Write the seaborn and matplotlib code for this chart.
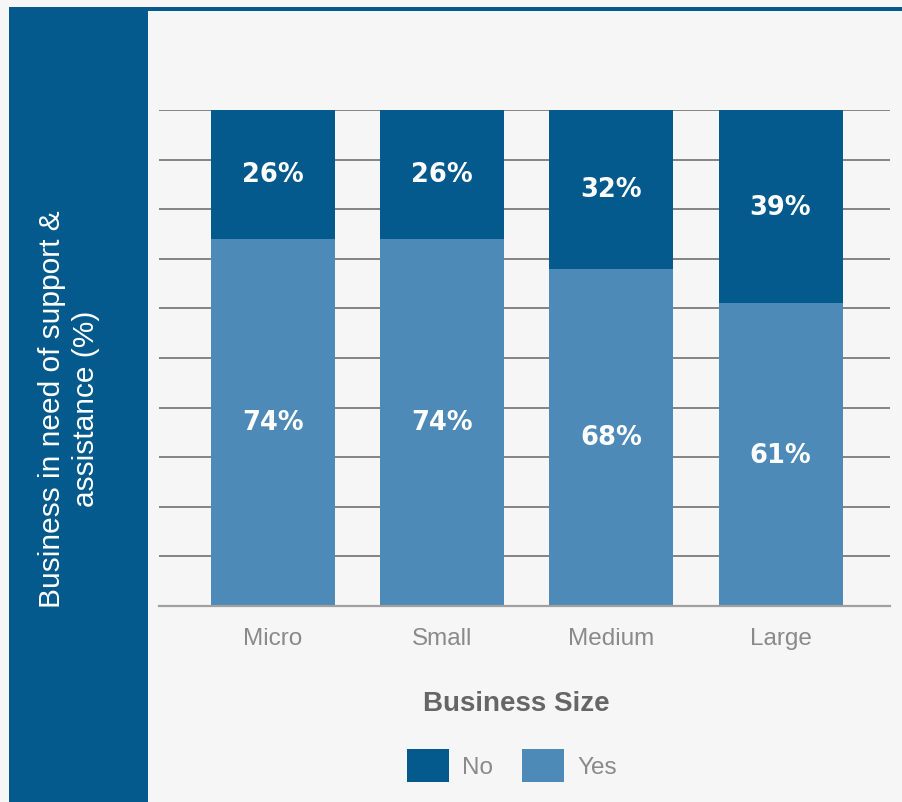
import matplotlib
matplotlib.use("Agg")
import matplotlib.pyplot as plt
from matplotlib.patches import Rectangle
import pandas as pd
import seaborn as sns

# Share of businesses needing support & assistance, by business size
sizes = ["Micro", "Small", "Medium", "Large"]
yes_pct = [74, 74, 68, 61]
no_pct = [26, 26, 32, 39]

DARK = "#045a8d"
LIGHT = "#4d8ab7"
BG = "#f6f6f6"

sns.set_theme(style="white")
plt.rcParams["font.family"] = ["Liberation Sans", "DejaVu Sans"]

df = pd.DataFrame({"size": sizes, "Yes": yes_pct, "No": no_pct})
df["total"] = df["Yes"] + df["No"]

fig = plt.figure(figsize=(9.03, 8.03), dpi=100)
fig.patch.set_facecolor(BG)

W, H = 903.0, 803.0

# Side panel with the value-axis title, and the rule along the top
fig.patches.append(Rectangle((9 / W, 0), 139 / W, (H - 8.3) / H,
                             transform=fig.transFigure, facecolor=DARK,
                             edgecolor="none", zorder=0))
fig.patches.append(Rectangle((148 / W, (H - 12.3) / H), (W - 148) / W, 4 / H,
                             transform=fig.transFigure, facecolor=DARK,
                             edgecolor="none", zorder=0))
fig.text(69 / W, 1 - 409 / H, "Business in need of support &\nassistance (%)",
         rotation=90, ha="center", va="center", color="white",
         fontsize=21.5, linespacing=1.28, family=["Liberation Sans", "DejaVu Sans"])

ax = fig.add_axes([159 / W, (H - 607) / H, 731 / W, 496 / H])
ax.set_facecolor("none")

# Stacked bars: full height in the "No" colour, "Yes" drawn over the lower part
sns.barplot(data=df, x="size", y="total", color=DARK, width=0.733,
            saturation=1, linewidth=0, ax=ax, zorder=3)
sns.barplot(data=df, x="size", y="Yes", color=LIGHT, width=0.733,
            saturation=1, linewidth=0, ax=ax, zorder=4)

ax.set_xlim(-0.674, 3.647)
ax.set_ylim(0, 100)
ax.set_yticks(range(0, 101, 10))
ax.yaxis.grid(True, color="#7a7a7a", linewidth=1.3, zorder=1)
ax.tick_params(axis="y", left=False, labelleft=False)
ax.tick_params(axis="x", bottom=False, pad=9, labelsize=17.5, labelcolor="#8a8a8a")
for lab in ax.get_xticklabels():
    lab.set_fontweight("light")
for side in ["top", "right", "left"]:
    ax.spines[side].set_visible(False)
ax.spines["bottom"].set_color("#a0a0a0")
ax.spines["bottom"].set_linewidth(1.6)
ax.spines["bottom"].set_zorder(5)

ax.set_ylabel("")
ax.set_xlabel("Business Size", fontsize=20, fontweight="bold", color="#666666")
ax.xaxis.set_label_coords((516 - 159) / 731, -(704 - 607) / 496)
ax.xaxis.label.set_va("center")

# Percent labels in each segment
for i, (y, n) in enumerate(zip(yes_pct, no_pct)):
    ax.text(i, y / 2, f"{y}%", ha="center", va="center", color="white",
            fontsize=18.5, fontweight="bold", family="DejaVu Sans", zorder=6)
    ax.text(i, y + n / 2, f"{n}%", ha="center", va="center", color="white",
            fontsize=18.5, fontweight="bold", family="DejaVu Sans", zorder=6)

# Legend
for x0, col, name in [(407, DARK, "No"), (522, LIGHT, "Yes")]:
    fig.patches.append(Rectangle((x0 / W, (H - 783) / H), 42 / W, 33 / H,
                                 transform=fig.transFigure, facecolor=col,
                                 edgecolor="none"))
    fig.text((x0 + 55) / W, 1 - 768 / H, name, ha="left", va="center",
             fontsize=17.5, color="#8a8a8a", fontweight="light")

fig.savefig("out.png", dpi=100, facecolor=BG)
